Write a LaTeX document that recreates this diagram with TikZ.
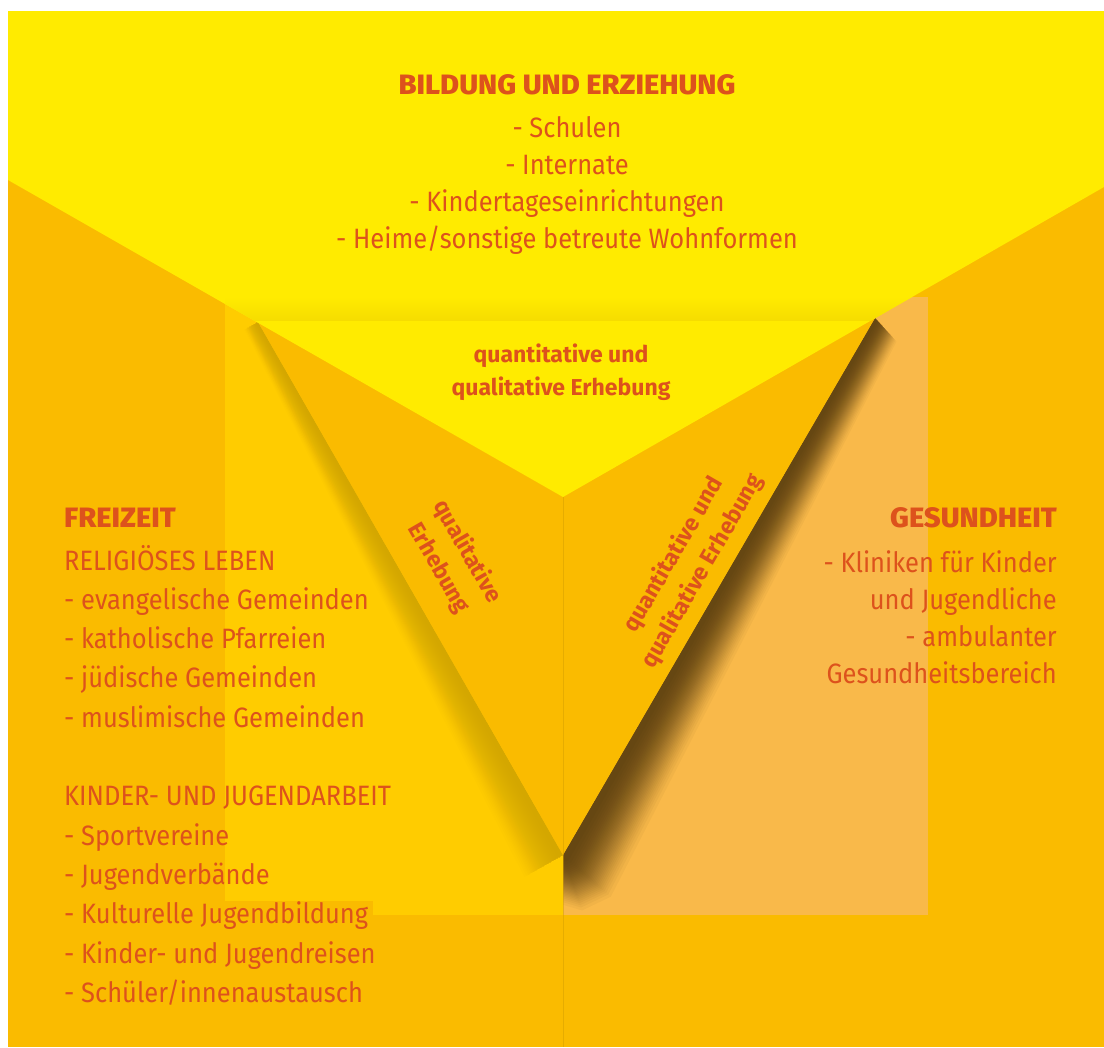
\documentclass[tikz,border=0pt]{standalone}
\usepackage{fontspec}
\setmainfont{Fira Sans}[FakeStretch=0.91]
\newfontfamily\headfont{Fira Sans ExtraBold}[FakeStretch=1.04]
\newfontfamily\vfont{Fira Sans Bold}
\usetikzlibrary{calc}
\definecolor{bgorange}{RGB}{250,187,0}
\definecolor{topyellow}{RGB}{255,235,0}
\definecolor{lidyellow}{RGB}{246,221,0}
\definecolor{leftyellow}{RGB}{255,204,0}
\definecolor{peach}{RGB}{249,185,74}
\definecolor{shadeolive}{RGB}{175,135,0}
\definecolor{shadebrown}{RGB}{40,25,0}
\definecolor{txtred}{RGB}{221,82,28}

\begin{document}
\begin{tikzpicture}[x=1pt,y=-1pt,
    item/.style={text=txtred,inner sep=0pt,font=\fontsize{28}{33}\selectfont},
    head/.style={text=txtred,inner sep=0pt,font=\headfont\fontsize{28}{33}\selectfont},
    vtext/.style={text=txtred,inner sep=0pt,align=center,font=\vfont\fontsize{23}{33}\selectfont}]
      % page and background
      \fill[white] (0,0) rectangle (1104,1047);
      \fill[bgorange] (8,11) rectangle (1104,1047);
      \fill[leftyellow] (225,297) rectangle (563,915);
      \fill[bgorange] (225,901) rectangle (373,915);
      \fill[peach] (563,297) rectangle (928,915);
      \coordinate (vA) at (563,855);
      \coordinate (vB) at (875,318);
      \coordinate (vC) at (258,322);

      % Freizeit
      \node[head,anchor=base west] (freizeit) at (64,527) {FREIZEIT};
      \foreach \t [count=\i from 0] in {RELIGIÖSES LEBEN,- evangelische Gemeinden,- katholische Pfarreien,- jüdische Gemeinden,- muslimische Gemeinden,,KINDER- UND JUGENDARBEIT,- Sportvereine,- Jugendverbände,- Kulturelle Jugendbildung,- Kinder- und Jugendreisen,- Schüler/innenaustausch}
        \node[item,anchor=base west] (fz\i) at (64,570+39.3*\i) {\t};

      % Gesundheit
      \node[head,anchor=base east] (gesundheit) at (1057,527) {GESUNDHEIT};
      \foreach \t [count=\i from 0] in {- Kliniken für Kinder,und Jugendliche,- ambulanter,Gesundheitsbereich}
        \node[item,anchor=base east] (gs\i) at (1057,572+37*\i) {\t};

      % shadows of the V (soft falloff)
      \begin{scope}
        \clip (563,297) rectangle (928,915);
        \foreach \i [evaluate=\i as \d using {62*(0.5-sin(asin(1-2*\i/31)/3))}] in {1,...,30}
          \fill[shadebrown,opacity=0.034] (vB) -- ($(vB)+0.45*\d*(0.864,0.504)+(0,0.2*\d)$) -- ($(vA)+\d*(0.864,0.504)+(0,0.25*\d)$) -- ($(vA)+0.4*\d*(0.864,0.504)+(0,0.8*\d)$) -- ($(vA)+(0,0.9*\d)$) -- (vA) -- cycle;
      \end{scope}
      \begin{scope}
        \clip (225,297) rectangle (563,915);
        \foreach \i [evaluate=\i as \d using {50*(0.5-sin(asin(1-2*\i/29)/3))}] in {1,...,28}
          \fill[shadeolive,opacity=0.02] (vC) -- ($(vC)+0.35*\d*(-0.869,0.495)$) -- ($(vA)+\d*(-0.869,0.495)$) -- (vA) -- cycle;
      \end{scope}
      \fill[bgorange] (vC) -- (vB) -- (vA) -- cycle;
      \draw[bgorange!85!black,line width=0.6pt,opacity=0.5] (563,497) -- (563,1047);

      % Bildung und Erziehung
      \fill[topyellow] (8,11) -- (1104,11) -- (1104,187) -- (563,497) -- (8,180) -- cycle;
      \begin{scope}
        \clip (8,11) -- (1104,11) -- (1104,187) -- (563,497) -- (8,180) -- cycle;
        \shade[top color=topyellow,bottom color=lidyellow] (225,297) rectangle (928,320);
      \end{scope}
      \node[head,anchor=base] (bildung) at (567,94) {BILDUNG UND ERZIEHUNG};
      \foreach \t [count=\i from 0] in {- Schulen,- Internate,- Kindertageseinrichtungen,- Heime/sonstige betreute Wohnformen}
        \node[item,anchor=base] (bi\i) at (567,137+37.3*\i) {\t};

      % Erhebungen
      \node[vtext] (mitte) at (561,372) {quantitative und\\qualitative Erhebung};
      \node[vtext,rotate=-60] (links) at (453,560) {qualitative\\Erhebung};
      \node[vtext,rotate=60] (rechts) at (688,563) {quantitative und\\qualitative Erhebung};
\end{tikzpicture}
\end{document}
